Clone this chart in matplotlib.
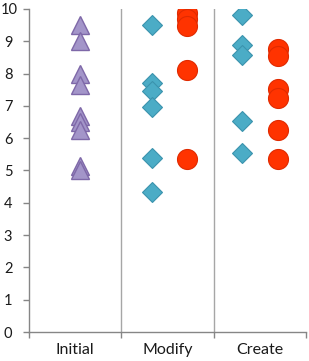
import matplotlib
matplotlib.use("Agg")
import matplotlib.pyplot as plt
from matplotlib.transforms import ScaledTranslation

categories = ["Initial", "Modify", "Create"]
y_ticks = [0, 1, 2, 3, 4, 5, 6, 7, 8, 9, 10]

initial_x = 0.55
initial_vals = [9.5, 9.0, 8.0, 7.65, 6.7, 6.5, 6.25, 5.15, 5.0]

modify_diamond_x = 1.33
modify_diamond_vals = [9.52, 7.7, 7.47, 6.96, 5.38, 4.33]
modify_circle_x = 1.71
modify_circle_vals = [9.89, 9.69, 9.47, 8.11, 5.35]

create_diamond_x = 2.31
create_diamond_vals = [9.81, 8.89, 8.58, 6.53, 5.55]
create_circle_x = 2.70
create_circle_vals = [8.75, 8.54, 7.52, 7.23, 6.25, 5.35]

plt.rcParams['font.family'] = ['Lato', 'DejaVu Sans']

fig = plt.figure(figsize=(3.09, 3.61), dpi=100)
ax = fig.add_axes([29/309, 1-332/361, (306-29)/309, (332-9)/361])

tri_face, tri_edge = "#a395c9", "#7e68a8"
dia_face, dia_edge = "#4bacc6", "#3b93ad"
cir_face, cir_edge = "#ff3300", "#e02a00"

ax.plot([initial_x]*len(initial_vals), initial_vals, ls="none", marker="^",
        ms=13.3, mfc=tri_face, mec=tri_edge, mew=1.0, zorder=3)
ax.plot([modify_diamond_x]*len(modify_diamond_vals), modify_diamond_vals, ls="none", marker="D",
        ms=10.2, mfc=dia_face, mec=dia_edge, mew=0.8, zorder=3)
ax.plot([modify_circle_x]*len(modify_circle_vals), modify_circle_vals, ls="none", marker="o",
        ms=14.4, mfc=cir_face, mec=cir_edge, mew=0.8, zorder=3)
ax.plot([create_diamond_x]*len(create_diamond_vals), create_diamond_vals, ls="none", marker="D",
        ms=10.2, mfc=dia_face, mec=dia_edge, mew=0.8, zorder=3)
ax.plot([create_circle_x]*len(create_circle_vals), create_circle_vals, ls="none", marker="o",
        ms=14.4, mfc=cir_face, mec=cir_edge, mew=0.8, zorder=3)

for sep in [1, 2]:
    ax.axvline(sep, color="#a6a6a6", lw=1.0, zorder=1)

ax.set_xlim(0, 3)
ax.set_ylim(0, 10)
ax.set_yticks(y_ticks)
ax.set_xticks([0, 1, 2, 3])
ax.set_xticklabels([])
ax.set_xticks([0.5, 1.5, 2.5], minor=True)
ax.set_xticklabels(categories, minor=True)

for s in ["top", "right"]:
    ax.spines[s].set_visible(False)
for s in ["left", "bottom"]:
    ax.spines[s].set_color("#868686")
    ax.spines[s].set_linewidth(1.0)

ax.tick_params(axis="y", which="major", length=4.5, width=1.0, color="#868686",
               pad=7.5, labelsize=10.5, labelcolor="#1a1a1a")
ax.tick_params(axis="x", which="major", length=4.2, width=1.0, color="#868686", direction="out")
ax.tick_params(axis="x", which="minor", length=0, pad=8, labelsize=11.5, labelcolor="#1a1a1a")

# keep the "10" label fully inside the figure
fig.canvas.draw()
for lab in ax.get_yticklabels():
    if lab.get_text() == "10":
        lab.set_transform(lab.get_transform() + ScaledTranslation(5/100, 0, fig.dpi_scale_trans))

fig.savefig("out.png", dpi=100)
